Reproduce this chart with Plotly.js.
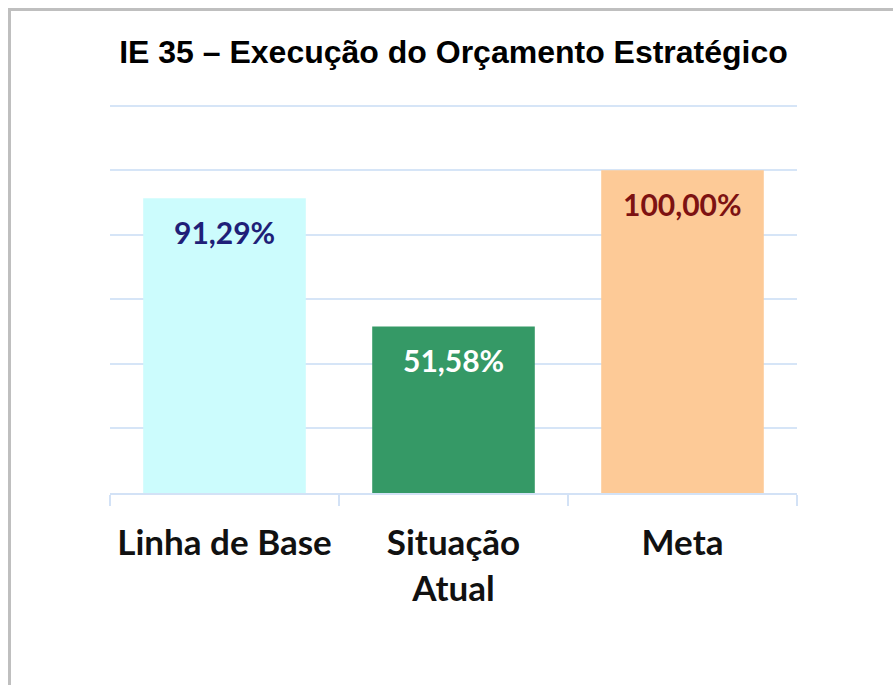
<!DOCTYPE html>
<html>
<head>
<meta charset="utf-8">
<script src="https://cdn.plot.ly/plotly-3.0.1.min.js"></script>
<style>
  html, body { margin: 0; padding: 0; background: #ffffff; }
  #wrap { position: relative; width: 893px; height: 685px; overflow: hidden; }
  #chart { position: absolute; left: 0; top: 0; width: 893px; height: 685px; }
  #frame { position: absolute; left: 8px; top: 8px; width: 900px; height: 700px;
           border-left: 3px solid #bfbfbf; border-top: 3px solid #bfbfbf; pointer-events: none; }
</style>
</head>
<body>
<div id="wrap">
  <div id="chart"></div>
  <div id="frame"></div>
</div>
<script>
const categories = ["Linha de Base", "Situação<br>Atual", "Meta"];
const values = [91.29, 51.58, 100.00];
const valueLabels = ["91,29%", "51,58%", "100,00%"];
const barColors = ["#ccfcfd", "#359966", "#fdca97"];
const labelColors = ["#1f1f78", "#ffffff", "#7d1212"];
const chartTitle = "IE 35 – Execução do Orçamento Estratégico";

const trace = {
  type: "bar",
  x: categories,
  y: values,
  marker: { color: barColors, line: { width: 0 } },
  hoverinfo: "skip"
};

const annotations = categories.map((c, i) => ({
  x: c, y: values[i], xref: "x", yref: "y",
  text: valueLabels[i], showarrow: false,
  yanchor: "middle", yshift: -34,
  font: { family: "Lato, 'Open Sans', sans-serif", size: 30, color: labelColors[i], weight: 700 }
}));

const layout = {
  width: 893, height: 685,
  margin: { l: 110, r: 96, t: 103, b: 192 },
  paper_bgcolor: "#ffffff", plot_bgcolor: "#ffffff",
  showlegend: false,
  bargap: 0.29,
  title: {
    text: "<b>" + chartTitle + "</b>",
    x: 0.5, xref: "paper", xanchor: "center",
    y: 54, yref: "container", yanchor: "middle",
    font: { family: "'Liberation Sans', Arial, sans-serif", size: 32, color: "#000000" }
  },
  xaxis: {
    type: "category",
    showgrid: false,
    showline: true, linecolor: "#d3e2f6", linewidth: 2,
    ticks: "outside", tickson: "boundaries", ticklen: 11, tickcolor: "#d3e2f6", tickwidth: 2,
    tickfont: { family: "Lato, 'Open Sans', sans-serif", size: 35, color: "#111111", weight: 700 },
    ticklabelstandoff: 18,
    zeroline: false, fixedrange: true
  },
  yaxis: {
    range: [0, 120.8],
    tickvals: [0, 20, 40, 60, 80, 100, 120],
    showticklabels: false,
    showgrid: true, gridcolor: "#d6e5f7", gridwidth: 2,
    zeroline: false, showline: false, ticks: "",
    fixedrange: true
  },
  annotations: annotations
};

Plotly.newPlot("chart", [trace], layout, { displayModeBar: false, staticPlot: true });
</script>
</body>
</html>
